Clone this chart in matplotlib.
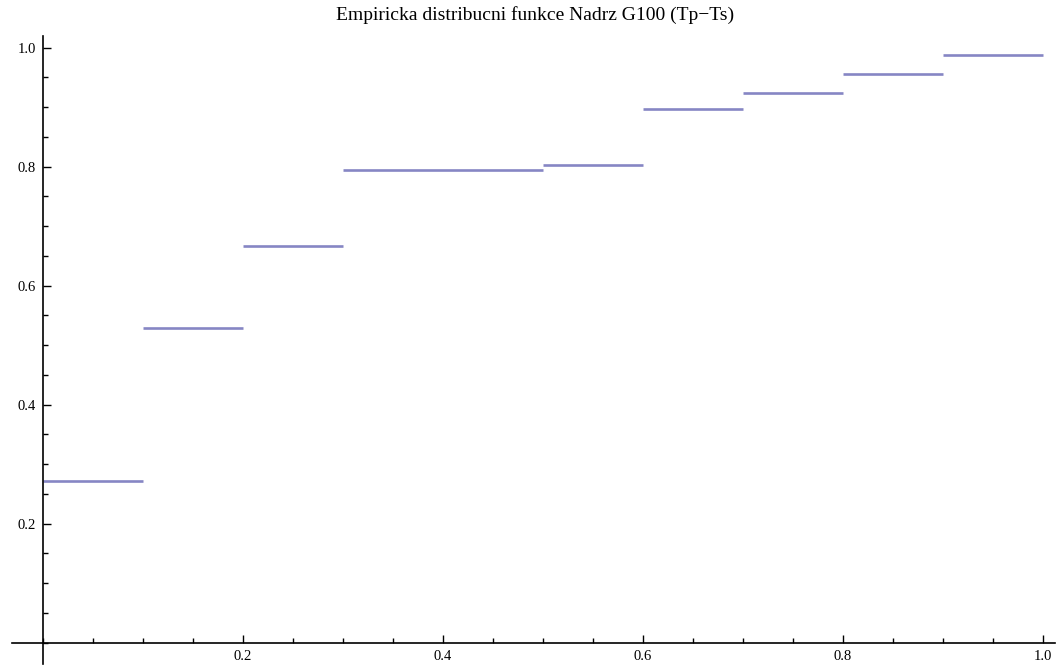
import matplotlib
matplotlib.use("Agg")
import matplotlib.pyplot as plt
from matplotlib.ticker import MultipleLocator, FixedLocator

# Data: empirical CDF steps
step_start = [0.0, 0.1, 0.2, 0.3, 0.5, 0.6, 0.7, 0.8, 0.9]
step_end = [0.1, 0.2, 0.3, 0.5, 0.6, 0.7, 0.8, 0.9, 1.0]
step_value = [0.272, 0.528, 0.667, 0.795, 0.802, 0.897, 0.923, 0.955, 0.987]
x_ticks = [0.2, 0.4, 0.6, 0.8, 1.0]
y_ticks = [0.2, 0.4, 0.6, 0.8, 1.0]
x_tick_labels = ["0.2", "0.4", "0.6", "0.8", "1.0"]
y_tick_labels = ["0.2", "0.4", "0.6", "0.8", "1.0"]
title = "Empiricka distribucni funkce Nadrz G100 (Tp\u2212Ts)"

fig = plt.figure(figsize=(10.56, 6.66), dpi=100)
ax = fig.add_axes([12 / 1056, 2.5 / 666, 1043 / 1056, 627.8 / 666])

ax.hlines(step_value, step_start, step_end, colors="#8686c4", linewidth=1.9)

ax.set_xlim(-0.031, 1.012)
ax.set_ylim(-0.035, 1.02)

for s in ("top", "right"):
    ax.spines[s].set_visible(False)
ax.spines["left"].set_position(("data", 0))
ax.spines["bottom"].set_position(("data", 0))
ax.spines["left"].set_linewidth(1.2)
ax.spines["bottom"].set_linewidth(1.2)

ax.xaxis.set_major_locator(FixedLocator(x_ticks))
ax.yaxis.set_major_locator(FixedLocator(y_ticks))
ax.set_xticklabels(x_tick_labels)
ax.set_yticklabels(y_tick_labels)
ax.xaxis.set_minor_locator(MultipleLocator(0.05))
ax.yaxis.set_minor_locator(MultipleLocator(0.05))

ax.tick_params(which="major", direction="in", length=6, width=1.0,
               labelsize=10.5, pad=5)
ax.tick_params(which="minor", direction="in", length=3.5, width=1.0)
for lab in ax.get_xticklabels() + ax.get_yticklabels():
    lab.set_fontfamily("Liberation Serif")

fig.text(535 / 1056, 1 - 15 / 666, title, ha="center", va="center",
         fontsize=14, family="Liberation Serif")

fig.savefig("out.png", dpi=100)
